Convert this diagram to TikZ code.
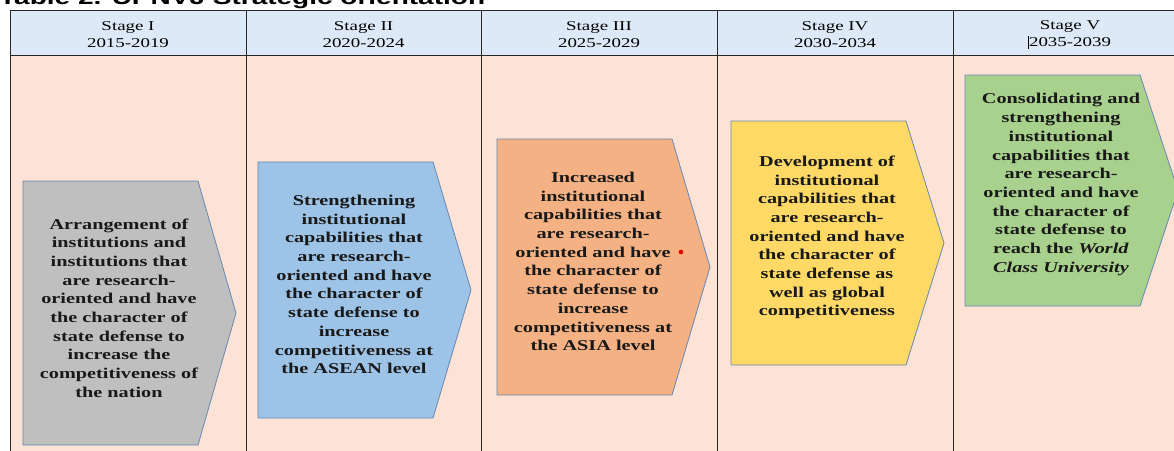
\documentclass[tikz,border=0pt]{standalone}
\usepackage{fontspec}
\setmainfont{Liberation Serif}
\newfontfamily\boxfont{Liberation Serif}[FakeStretch=1.35]
\newfontfamily\headfont{Liberation Serif}[FakeStretch=1.4]
\newfontfamily\titlefont{Liberation Sans}[FakeStretch=1.4]

\definecolor{headbg}{RGB}{221,233,246}
\definecolor{bodybg}{RGB}{252,227,214}
\definecolor{gridline}{RGB}{40,40,40}
\definecolor{arrowline}{RGB}{100,135,180}
\definecolor{fillI}{RGB}{191,191,191}
\definecolor{fillII}{RGB}{157,195,230}
\definecolor{fillIII}{RGB}{244,177,131}
\definecolor{fillIV}{RGB}{255,217,102}
\definecolor{fillV}{RGB}{169,209,142}

\tikzset{
  headtext/.style={align=center, inner sep=0pt,
    font=\headfont\fontsize{13.5}{17}\selectfont},
  stagetext/.style={align=center, inner sep=0pt, text=black!90,
    font=\boxfont\bfseries\fontsize{15}{18.7}\selectfont},
  stagearrow/.style={draw=arrowline, line width=0.8pt, line join=miter},
  gridrule/.style={draw=gridline, line width=0.9pt},
}

% pentagon arrow: #1 left, #2 top, #3 bottom, #4 fill
\newcommand{\stagearrowshape}[4]{%
  \path[stagearrow, fill=#4]
    (#1,#2) -- ({#1+175},#2) -- ({#1+213},{(#2+#3)/2})
    -- ({#1+175},#3) -- (#1,#3) -- cycle;}

\begin{document}
\begin{tikzpicture}[x=1pt, y=-1pt]
\useasboundingbox (0,0) rectangle (1174,450);
\clip (0,0) rectangle (1174,450);

% caption, cut off at the top edge
\node[anchor=base west, inner sep=0pt,
  font=\titlefont\bfseries\fontsize{20}{24}\selectfont] (caption)
  at (-1,4) {Table 2. UPNVJ Strategic orientation};

% table backgrounds
\fill[headbg] (10,10.5) rectangle (1180,55);
\fill[bodybg] (10,55) rectangle (1180,455);

% table rules
\draw[gridrule] (10,10.5) -- (1180,10.5);
\draw[gridrule] (10,55) -- (1180,55);
\foreach \cx in {10,246,481,717,953}
  \draw[gridrule] (\cx,10.5) -- (\cx,455);

% column headers
\node[headtext] (h1) at (128,34.5) {Stage I\\2015-2019};
\node[headtext] (h2) at (363.5,34.5) {Stage II\\2020-2024};
\node[headtext] (h3) at (599,34.5) {Stage III\\2025-2029};
\node[headtext] (h4) at (835,34.5) {Stage IV\\2030-2034};
\node[headtext] (h5) at (1070,34.5) {Stage V\\\llap{\rule[-2.5pt]{0.7pt}{13pt}}2035-2039};

% stage arrows
\stagearrowshape{23}{181}{445}{fillI}
\stagearrowshape{258}{162}{418}{fillII}
\stagearrowshape{497}{139}{395}{fillIII}
\stagearrowshape{731}{121}{365}{fillIV}
\stagearrowshape{965}{75}{306}{fillV}

% stage descriptions
\node[stagetext] (s1) at (119,308) {Arrangement of\\institutions and\\institutions that\\are research-\\oriented and have\\the character of\\state defense to\\increase the\\competitiveness of\\the nation};
\node[stagetext] (s2) at (354,284.5) {Strengthening\\institutional\\capabilities that\\are research-\\oriented and have\\the character of\\state defense to\\increase\\competitiveness at\\the ASEAN level};
\node[stagetext] (s3) at (593,261.5) {Increased\\institutional\\capabilities that\\are research-\\oriented and have\\the character of\\state defense to\\increase\\competitiveness at\\the ASIA level};
\node[stagetext] (s4) at (827,237.5) {Development of\\institutional\\capabilities that\\are research-\\oriented and have\\the character of\\state defense as\\well as global\\competitiveness};
\node[stagetext] (s5) at (1061,184.5) {Consolidating and\\strengthening\\institutional\\capabilities that\\are research-\\oriented and have\\the character of\\state defense to\\reach the \textit{World}\\\textit{Class University}};

% small red mark
\fill[red!90!black] (681,252) circle (2.3);
\end{tikzpicture}
\end{document}
